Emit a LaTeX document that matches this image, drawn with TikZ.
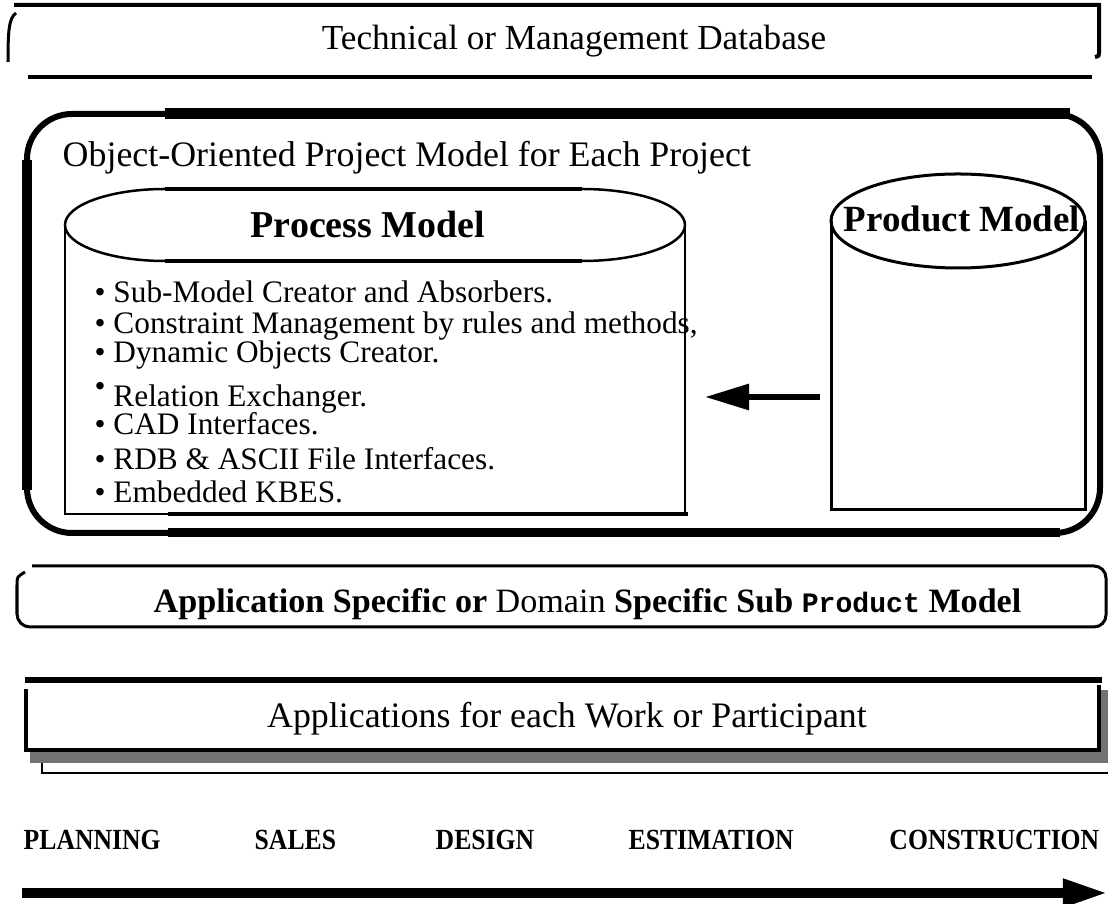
\documentclass[tikz,border=0pt]{standalone}
\usepackage{fontspec}
\setmainfont{Liberation Serif}
\setmonofont{Liberation Mono}
\newfontfamily\narrowrm[FakeStretch=0.88]{Liberation Serif}
\usetikzlibrary{arrows.meta}
\begin{document}
\begin{tikzpicture}[x=0.01cm,y=-0.01cm,
  txt/.style={inner sep=0pt},
  rule/.style={line width=0.04cm},
  heavy/.style={line width=0.11cm},
  cyl/.style={line width=0.025cm},
  bul/.style={txt,anchor=base west,font=\fontsize{8.9}{10}\selectfont},
  phase/.style={txt,anchor=base west,font=\narrowrm\bfseries\fontsize{8.3}{10}\selectfont}]
\useasboundingbox (0,0) rectangle (1108,904);

% database strip
\draw[rule] (14,5)--(1099,5)--(1099,53)..controls(1099,56)..(1095,57);
\draw[line width=0.03cm] (16,13)..controls(9,18) and (8,30)..(8,62);
\draw[rule] (28,77)--(1092,77);
\node[txt,anchor=base,font=\fontsize{10}{12}\selectfont] (db) at (574,50) {Technical or Management Database};

% project model frame
\draw[line width=0.06cm,rounded corners=0.45cm] (27,114) rectangle (1100,533);
\draw[heavy] (165,114)--(1070,114);
\draw[line width=0.09cm] (168,533)--(1060,533);
\draw[line width=0.09cm] (27,160)--(27,490);
\node[txt,anchor=base west,font=\fontsize{10.2}{12}\selectfont] (pm) at (62,167) {Object-Oriented Project Model for Each Project};

% process model
\draw[cyl] (165,189)--(582,189) arc[start angle=-90,end angle=90,x radius=103,y radius=36]
  --(165,261) arc[start angle=90,end angle=270,x radius=100,y radius=36];
\draw[rule] (165,189)--(582,189) (165,261)--(582,261);
\draw[cyl] (65,225)--(65,514)--(685,514)--(685,226);
\draw[rule] (168,514)--(688,514);
\node[txt,anchor=base,font=\bfseries\fontsize{10.8}{12}\selectfont] (proc) at (368,238) {Process Model};

\node[bul] (b1) at (94,303) {\textbullet\ Sub-Model Creator and Absorbers.};
\node[bul] (b2) at (94,334) {\textbullet\ Constraint Management by rules and methods,};
\node[bul] (b3) at (94,363) {\textbullet\ Dynamic Objects Creator.};
\node[bul] (b4) at (94,407) {\raisebox{3pt}{\textbullet}\ Relation Exchanger.};
\node[bul] (b5) at (94,435) {\textbullet\ CAD Interfaces.};
\node[bul] (b6) at (94,470) {\textbullet\ RDB \& ASCII File Interfaces.};
\node[bul] (b7) at (94,503) {\textbullet\ Embedded KBES.};

% product model
\draw[line width=0.03cm] (831,221)--(831,510)--(1085,510)--(1085,221);
\draw[line width=0.03cm] (958,221) ellipse[x radius=127,y radius=47];
\node[txt,anchor=base,font=\bfseries\fontsize{10.5}{12}\selectfont] (prod) at (962,232) {Product Model};

\coordinate (prodout) at (820,397);
\coordinate (procin) at (705,397);
\draw[line width=0.06cm,-{Triangle[length=0.44cm,width=0.25cm]}] (prodout)--(procin);

% sub product model strip
\draw[line width=0.03cm] (32,566)--(1094,566) arc[start angle=-90,end angle=0,radius=12]--(1106,615)
  arc[start angle=0,end angle=90,radius=12]--(30,627) arc[start angle=90,end angle=180,radius=13]
  --(17,585)..controls(17,577)..(25,572);
\node[txt,anchor=base west,font=\fontsize{9.7}{12}\selectfont] (sub) at (153,613)
  {\bfseries Application Specific or \mdseries Domain \bfseries Specific Sub {\ttfamily\fontsize{8}{10}\selectfont Product} Model};

% applications box with its shadow
\draw[line width=0.065cm] (25,680)--(1102,680);
\fill[black!55] (30,752) rectangle (1108,763);
\fill[black!55] (1101,690) rectangle (1108,763);
\draw[line width=0.045cm] (26,689)--(26,750)--(1099,750)--(1099,685);
\draw[line width=0.02cm] (42,763)--(42,773)--(1108,773);
\node[txt,anchor=base,font=\fontsize{10.2}{12}\selectfont] (apps) at (567,728) {Applications for each Work or Participant};

% phases
\node[phase] (plan) at (23,850) {PLANNING};
\node[phase] (sales) at (254,850) {SALES};
\node[phase] (design) at (435,850) {DESIGN};
\node[phase] (est) at (628,850) {ESTIMATION};
\node[phase,anchor=base east] (cons) at (1100,850) {CONSTRUCTION};

\coordinate (flowstart) at (22,893);
\coordinate (flowend) at (1108,893);
\draw[line width=0.1cm,-{Triangle[length=0.45cm,width=0.26cm]}] (flowstart)--(flowend);
\end{tikzpicture}
\end{document}
